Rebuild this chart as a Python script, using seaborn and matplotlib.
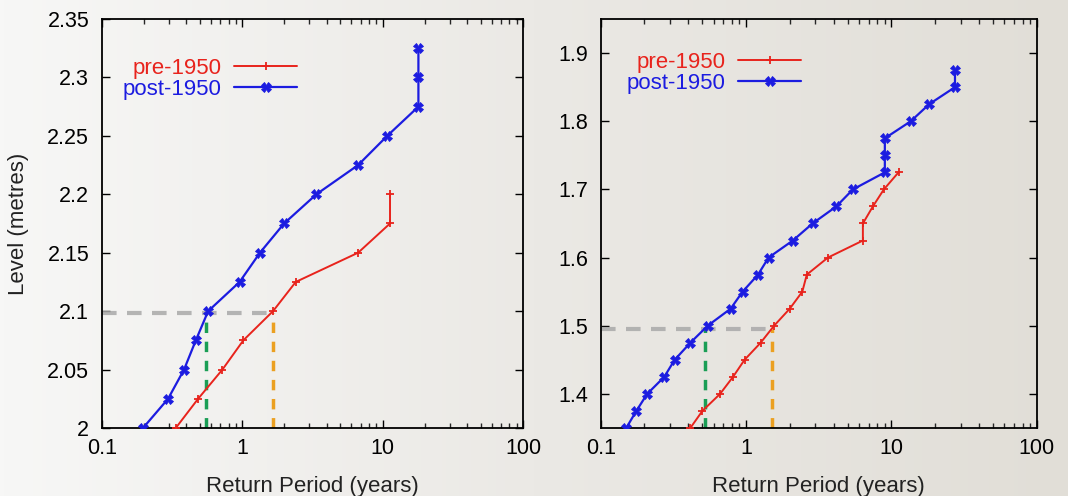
import numpy as np
import seaborn as sns
import matplotlib
matplotlib.use("Agg")
import matplotlib.pyplot as plt
from matplotlib.ticker import FuncFormatter, LogLocator

# --- data (return period in years, level in metres) ---
# left panel
left_pre_period = [0.337, 0.486, 0.724, 1.02, 1.66, 2.41, 6.7, 11.3, 11.3]
left_pre_level = [2.0, 2.025, 2.05, 2.075, 2.1, 2.125, 2.15, 2.175, 2.2]
left_post_period = [0.197, 0.297, 0.386, 0.468, 0.573, 0.96, 1.34, 1.99, 3.38, 6.7, 10.8, 18.0, 18.0, 18.0]
left_post_level = [2.0, 2.025, 2.05, 2.075, 2.1, 2.125, 2.15, 2.175, 2.2, 2.225, 2.25, 2.275, 2.3, 2.325]
left_ref_level = 2.098
left_ref_post, left_ref_pre = 0.552, 1.67

# right panel
right_pre_period = [0.414, 0.501, 0.663, 0.814, 0.977, 1.26, 1.56, 2.0, 2.44, 2.62, 3.66, 6.37, 6.37, 7.46, 8.88, 11.2]
right_pre_level = [1.35, 1.375, 1.4, 1.425, 1.45, 1.475, 1.5, 1.525, 1.55, 1.575, 1.6, 1.625, 1.65, 1.675, 1.7, 1.725]
right_post_period = [0.150, 0.176, 0.209, 0.274, 0.323, 0.414, 0.545, 0.784, 0.948, 1.21, 1.43, 2.10, 2.87, 4.18, 5.44,
                     9.02, 9.02, 9.02, 13.6, 18.2, 27.4, 27.4]
right_post_level = [1.35, 1.375, 1.4, 1.425, 1.45, 1.475, 1.5, 1.525, 1.55, 1.575, 1.6, 1.625, 1.65, 1.675, 1.7,
                    1.725, 1.75, 1.775, 1.8, 1.825, 1.85, 1.875]
right_ref_level = 1.495
right_ref_post, right_ref_pre = 0.525, 1.52

sns.set_style("ticks")
plt.rcParams['font.family'] = ['Liberation Sans', 'DejaVu Sans']

RED = '#e8231c'
BLUE = '#1c1ce0'

fig = plt.figure(figsize=(10.68, 4.96), dpi=100)

# slide-like background: whitish on the left, beige on the right
bg = fig.add_axes([0, 0, 1, 1], zorder=-10)
grad = np.linspace(0, 1, 256)[None, :]
cmap = matplotlib.colors.LinearSegmentedColormap.from_list('bg', ['#f7f7f6', '#ebe9e5', '#e1ded7'])
bg.imshow(grad, aspect='auto', cmap=cmap, extent=[0, 1, 0, 1])
bg.axis('off')

ax1 = fig.add_axes([0.0952, 0.1371, 0.3945, 0.8246])
ax2 = fig.add_axes([0.5624, 0.1371, 0.4083, 0.8246])


def draw(ax, pre_x, pre_y, post_x, post_y, ref_y, ref_post, ref_pre, ylim, yticks, bbox):
    ax.set_facecolor('none')
    ax.set_xscale('log')
    # reference guides
    ax.plot([0.1, ref_pre], [ref_y, ref_y], ls=(0, (3.5, 2.5)), color='#a9a9a9', lw=3, alpha=0.85, zorder=1)
    ax.plot([ref_post, ref_post], [ylim[0], ref_y], ls=(0, (3, 2.5)), color='#1a9e55', lw=2.5, zorder=1)
    ax.plot([ref_pre, ref_pre], [ylim[0], ref_y], ls=(0, (3, 2.5)), color='#eba021', lw=2.5, zorder=1)

    sns.lineplot(x=pre_x, y=pre_y, ax=ax, sort=False, estimator=None, color=RED, lw=1.4,
                 marker='+', markersize=6, markeredgewidth=1.3, markeredgecolor=RED,
                 label='pre-1950', zorder=3)
    sns.lineplot(x=post_x, y=post_y, ax=ax, sort=False, estimator=None, color=BLUE, lw=1.6,
                 marker='X', markersize=6.5, markeredgewidth=0.6, markeredgecolor=BLUE,
                 markerfacecolor=BLUE, label='post-1950', zorder=4)

    ax.set_xlim(0.1, 100)
    ax.set_ylim(*ylim)
    ax.set_yticks(yticks)
    ax.xaxis.set_major_locator(LogLocator(base=10))
    ax.xaxis.set_minor_locator(LogLocator(base=10, subs=np.arange(2, 10)))
    ax.xaxis.set_major_formatter(FuncFormatter(lambda v, p: '%g' % v))
    ax.xaxis.set_minor_formatter(FuncFormatter(lambda v, p: ''))
    ax.yaxis.set_major_formatter(FuncFormatter(lambda v, p: '%g' % v))
    ax.tick_params(axis='both', which='major', direction='in', length=5.5, width=1, labelsize=15.5,
                   top=True, right=True, colors='black')
    ax.tick_params(axis='x', which='major', pad=7)
    ax.tick_params(axis='y', which='major', pad=9)
    ax.tick_params(axis='x', which='minor', direction='in', length=3.5, width=1, top=True)
    for s in ax.spines.values():
        s.set_linewidth(1.3)
        s.set_color('black')
        s.set_visible(True)

    ax.set_xlabel('Return Period (years)', fontsize=16, color='#222222')
    ax.xaxis.set_label_coords(0.5, -0.117)
    ax.set_ylabel('')
    ax.legend(loc='upper right', bbox_to_anchor=bbox, frameon=False, markerfirst=False,
              labelcolor='linecolor', fontsize=16, handlelength=2.8, handletextpad=0.6,
              labelspacing=0.0, borderaxespad=0)


draw(ax1, left_pre_period, left_pre_level, left_post_period, left_post_level,
     left_ref_level, left_ref_post, left_ref_pre, (2.0, 2.35),
     [2.0, 2.05, 2.1, 2.15, 2.2, 2.25, 2.3, 2.35], (0.484, 0.927))
draw(ax2, right_pre_period, right_pre_level, right_post_period, right_post_level,
     right_ref_level, right_ref_post, right_ref_pre, (1.35, 1.95),
     [1.4, 1.5, 1.6, 1.7, 1.8, 1.9], (0.479, 0.942))

ax1.set_ylabel('Level (metres)', fontsize=16, color='#222222')
ax1.yaxis.set_label_coords(-0.172, 0.5)

fig.savefig('out.png', dpi=100)
